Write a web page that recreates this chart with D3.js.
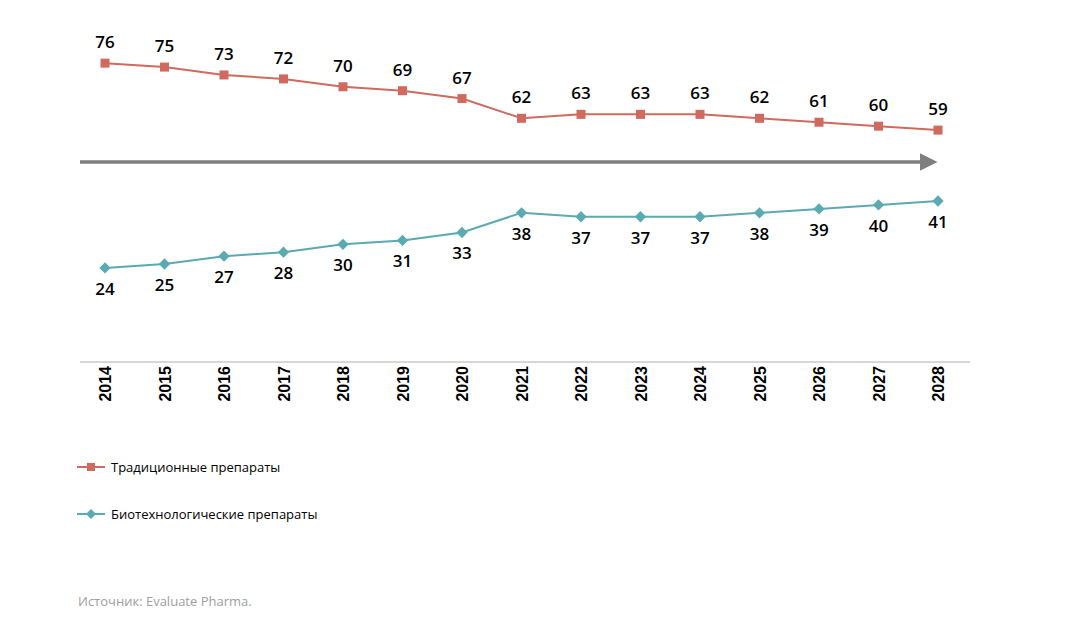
<!DOCTYPE html>
<html><head><meta charset="utf-8">
<script src="https://cdn.jsdelivr.net/npm/d3@7"></script>
<style>body{margin:0;background:#fff}svg{display:block}</style>
</head><body>
<svg id="c" width="1092" height="631"></svg>
<script>
const years = ["2014","2015","2016","2017","2018","2019","2020","2021","2022","2023","2024","2025","2026","2027","2028"];
const traditional = [76,75,73,72,70,69,67,62,63,63,63,62,61,60,59];
const biotech = [24,25,27,28,30,31,33,38,37,37,37,38,39,40,41];
const seriesNames = ["Традиционные препараты","Биотехнологические препараты"];
const sourceText = "Источник: Evaluate Pharma.";

const red = "#d0695e", teal = "#5aaab2", gray = "#7f7f81";
const svg = d3.select("#c");
const x = d3.scalePoint().domain(years).range([105, 938]);
const y = d3.scaleLinear().domain([0, 90]).range([362.5, 8]);

// arrow
svg.append("defs").append("marker").attr("id","ah").attr("viewBox","0 0 10 10")
  .attr("refX",0).attr("refY",5).attr("markerWidth",5).attr("markerHeight",5)
  .attr("markerUnits","strokeWidth").attr("orient","auto")
  .append("path").attr("d","M0,0L10,5L0,10Z").attr("fill",gray);
svg.append("line").attr("x1",80).attr("x2",920).attr("y1",162).attr("y2",162)
  .attr("stroke",gray).attr("stroke-width",3.5).attr("marker-end","url(#ah)");

// axis
const ax = svg.append("g").attr("transform","translate(0,362)")
  .call(d3.axisBottom(x).tickSize(0).tickPadding(0));
ax.select(".domain").attr("stroke","#b0b0b0").attr("stroke-width",1.2).attr("d","M80,0H970");
ax.selectAll(".tick text").attr("transform","rotate(-90)").attr("text-anchor","end")
  .attr("x",-4).attr("y",0).attr("dy","0.35em")
  .attr("font-family","Liberation Sans, Arial, sans-serif").attr("font-weight","bold")
  .attr("font-size",16).attr("fill","#000");

const line = d3.line().x((d,i)=>x(years[i])).y(d=>y(d));
svg.append("path").datum(traditional).attr("d",line).attr("fill","none").attr("stroke",red).attr("stroke-width",2);
svg.append("path").datum(biotech).attr("d",line).attr("fill","none").attr("stroke",teal).attr("stroke-width",2);

svg.selectAll(".sq").data(traditional).join("rect")
  .attr("x",(d,i)=>x(years[i])-4.5).attr("y",d=>y(d)-4.5).attr("width",9).attr("height",9).attr("fill",red);
svg.selectAll(".dm").data(biotech).join("path")
  .attr("d",d3.symbol(d3.symbolSquare, 64)).attr("transform",(d,i)=>`translate(${x(years[i])},${y(d)}) rotate(45)`)
  .attr("fill",teal);

const lf = "Open Sans, Noto Sans, sans-serif";
svg.selectAll(".lt").data(traditional).join("text")
  .attr("x",(d,i)=>x(years[i])).attr("y",d=>y(d)-21).attr("dy","0.35em").attr("text-anchor","middle")
  .attr("font-family",lf).attr("font-size",17).attr("font-weight",600).attr("fill","#000").text(d=>d);
svg.selectAll(".lb").data(biotech).join("text")
  .attr("x",(d,i)=>x(years[i])).attr("y",d=>y(d)+21).attr("dy","0.35em").attr("text-anchor","middle")
  .attr("font-family",lf).attr("font-size",17).attr("font-weight",600).attr("fill","#000").text(d=>d);

// legend
const leg = [{c:red, y:467, sym:"sq"},{c:teal, y:514, sym:"dm"}];
leg.forEach((l,i)=>{
  svg.append("line").attr("x1",77).attr("x2",105).attr("y1",l.y).attr("y2",l.y).attr("stroke",l.c).attr("stroke-width",2);
  if(l.sym==="sq") svg.append("rect").attr("x",87).attr("y",l.y-4).attr("width",8).attr("height",8).attr("fill",l.c);
  else svg.append("path").attr("d",d3.symbol(d3.symbolSquare,50)).attr("transform",`translate(91,${l.y}) rotate(45)`).attr("fill",l.c);
  svg.append("text").attr("x",111).attr("y",l.y).attr("dy","0.35em").attr("font-family",lf)
    .attr("font-size",13).attr("fill","#000").text(seriesNames[i]);
});

svg.append("text").attr("x",78).attr("y",601).attr("dy","0.35em").attr("font-family",lf)
  .attr("font-size",13).attr("fill","#a0a0a0").text(sourceText);
</script>
</body></html>
